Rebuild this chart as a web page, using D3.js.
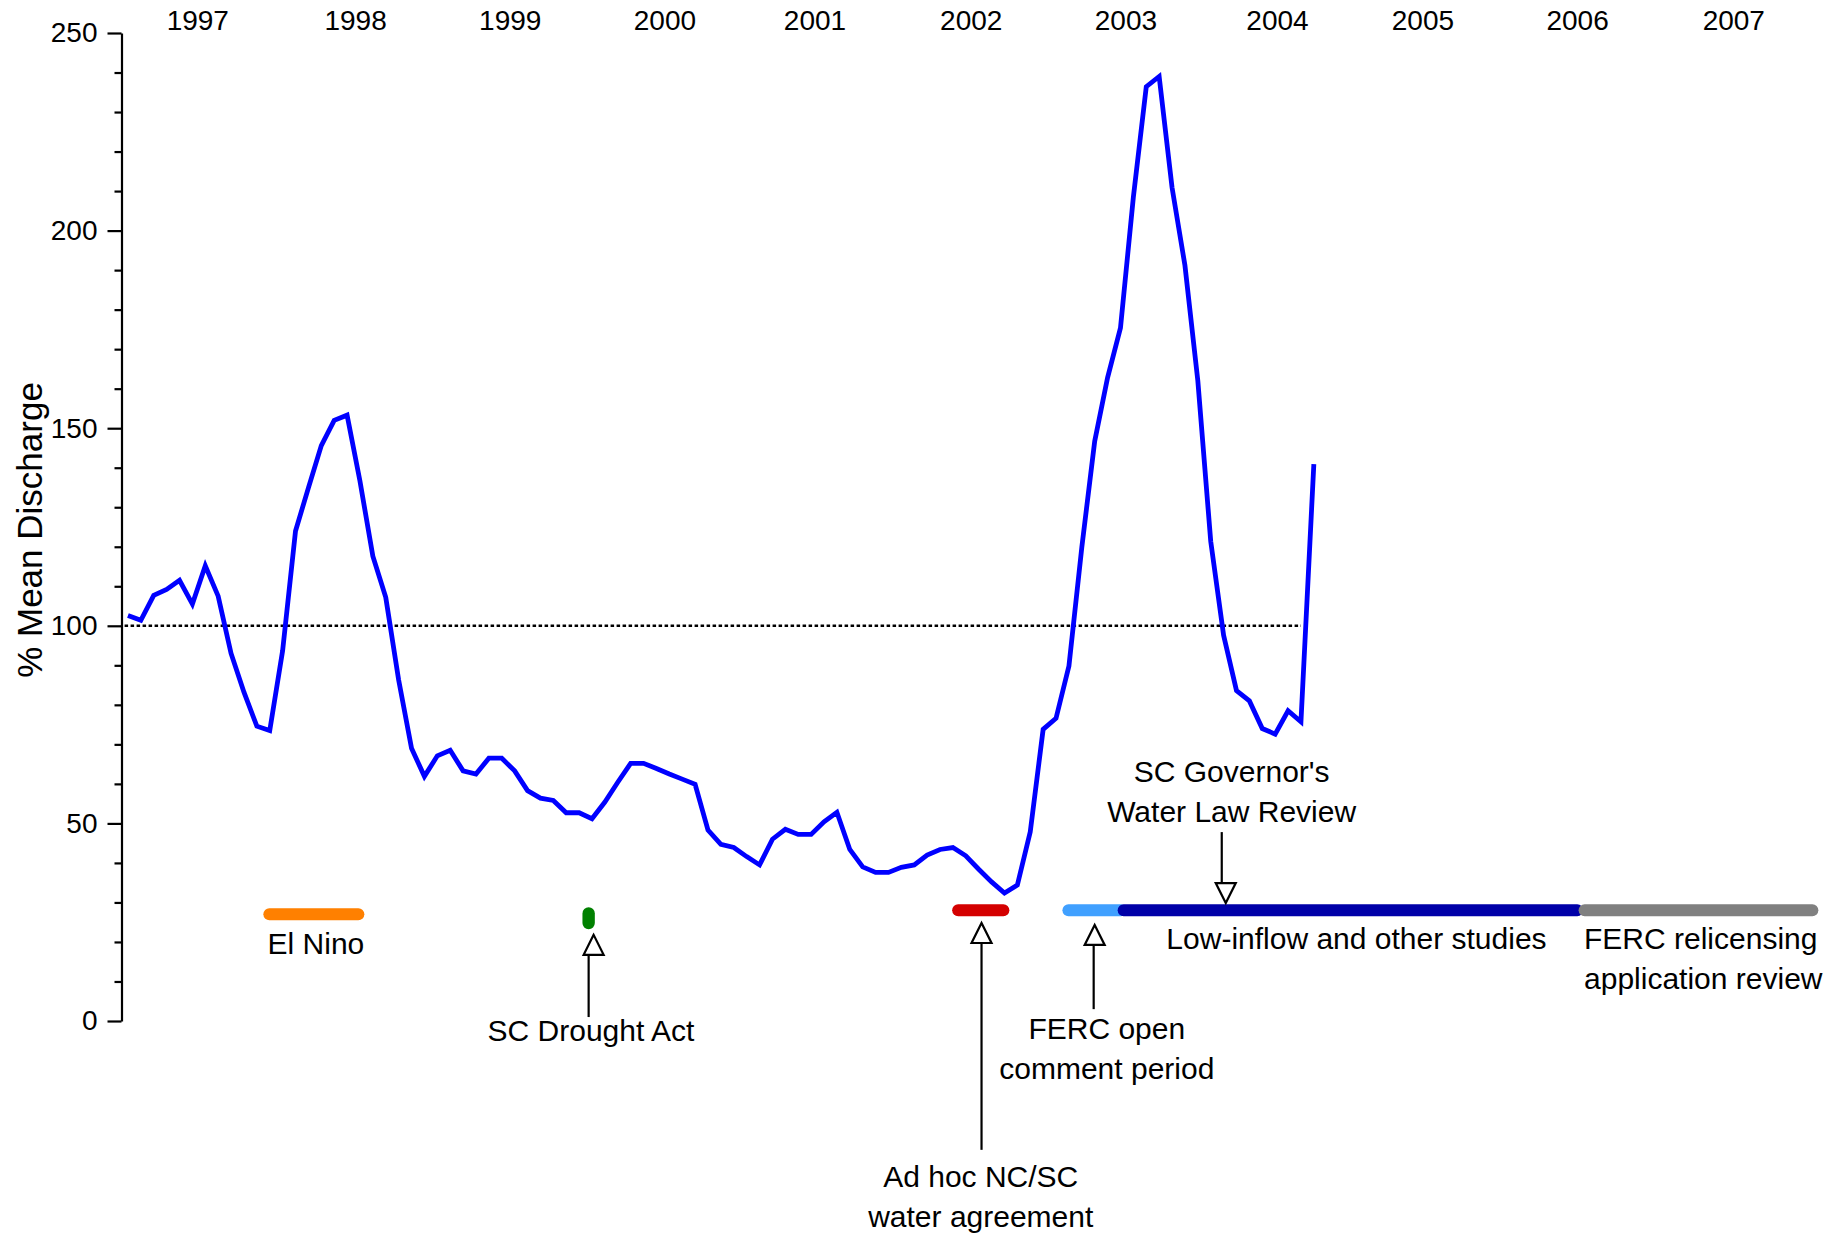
<!DOCTYPE html>
<html>
<head>
<meta charset="utf-8">
<script src="https://cdn.jsdelivr.net/npm/d3@7"></script>
<style>
  body { margin: 0; background: #fff; }
  svg { display: block; font-family: Arial, "Liberation Sans", sans-serif; }
</style>
</head>
<body>
<svg></svg>
<script>
// ---- data ----
// monthly % of mean discharge, Jan 1997 .. Sep 2004
const startYear = 1997;
const discharge = [
  102.6, 101.4, 107.7, 109.2, 111.5, 105.5, 115.2, 107.5, 93.0, 83.2, 74.6, 73.5,   // 1997
  93.7, 124.0, 134.9, 145.6, 152.0, 153.3, 136.6, 117.6, 107.2, 86.3, 69.0, 61.9,   // 1998
  67.1, 68.5, 63.3, 62.5, 66.5, 66.5, 63.3, 58.3, 56.4, 55.8, 52.7, 52.7,           // 1999
  51.2, 55.4, 60.4, 65.2, 65.2, 63.9, 62.5, 61.2, 59.9, 48.3, 44.7, 43.9,           // 2000
  41.6, 39.5, 46.0, 48.5, 47.2, 47.2, 50.4, 52.8, 43.4, 39.0, 37.6, 37.6,           // 2001
  38.9, 39.5, 42.0, 43.4, 43.9, 41.8, 38.4, 35.2, 32.4, 34.4, 47.9, 73.8,           // 2002
  76.6, 89.8, 119.9, 146.7, 162.8, 175.4, 208.5, 236.4, 239.0, 210.9, 191.2, 162.0, // 2003
  121.4, 97.6, 83.6, 81.0, 74.0, 72.6, 78.5, 75.7, 140.9                            // 2004
];

// year labels along the top and where they sit (decimal years)
const years = [1997, 1998, 1999, 2000, 2001, 2002, 2003, 2004, 2005, 2006, 2007];
const yearLabelPos = [1997.49, 1998.51, 1999.51, 2000.51, 2001.48, 2002.49, 2003.49, 2004.47, 2005.41, 2006.41, 2007.42];

const yTicks = [0, 50, 100, 150, 200, 250];
const yMinorTicks = [10, 20, 30, 40, 60, 70, 80, 90, 110, 120, 130, 140, 160, 170, 180, 190, 210, 220, 230, 240];

// 100% reference line (decimal years)
const refValue = 100;
const refFrom = 1997.02, refTo = 2004.625;

// event periods (decimal years) and the level they are drawn at
const barNames  = ["El Nino", "SC Drought Act", "Ad hoc NC/SC", "FERC open comment", "Low-inflow studies", "FERC relicensing"];
const barStart  = [1997.917, 1999.98, 2002.37, 2003.083, 2003.44, 2006.42];
const barEnd    = [1998.57, 2000.06, 2002.74, 2003.5, 2006.45, 2007.97];
const barLevel  = [27, 26, 28, 28, 28, 28];

// arrows: date, tip value, tail value
const arrowYear = [2000.02, 2002.56, 2003.285, 2004.113];
const arrowTip  = [21.8, 24.8, 24.3, 29.85];
const arrowTail = [1.0, -32.6, 3.0, 47.8];

// ---- styles ----
const barColors = ["#ff8000", "#008000", "#d40000", "#40a0ff", "#0000a8", "#808080"];
const barHeights = [12, 22, 12, 12, 12, 12];
const arrowHeadShift = [5, 0, 1, 4];

// text annotations: lines, anchor date, baseline value, text-anchor
const notes = [
  { lines: ["El Nino"], at: 1998.257, v: 17.0, anchor: "middle" },
  { lines: ["SC Drought Act"], at: 2000.035, v: -5.0, anchor: "middle" },
  { lines: ["Ad hoc NC/SC", "water agreement"], at: 2002.555, v: -42.1, anchor: "middle" },
  { lines: ["FERC open", "comment period"], at: 2003.37, v: -4.6, anchor: "middle" },
  { lines: ["SC Governor's", "Water Law Review"], at: 2004.177, v: 60.5, anchor: "middle" },
  { lines: ["Low-inflow and other studies"], at: 2004.984, v: 18.3, anchor: "middle" },
  { lines: ["FERC relicensing", "application review"], at: 2006.455, v: 18.3, anchor: "start" }
];

// ---- svg ----
let width = 1843, height = 1235;
let svg = d3.select('svg')
  .attr('width', width)
  .attr('height', height);

let x = d3.scaleLinear().domain([1997, 2008]).range([121.5, 1823]);
let y = d3.scaleLinear().domain([0, 250]).range([1021, 33]);

// y axis, major + minor ticks
svg.append('g')
  .attr('transform', `translate(${x(1997)},0)`)
  .call(d3.axisLeft(y).tickValues(yTicks).tickSize(14).tickSizeOuter(0).tickPadding(10))
  .call(g => g.selectAll('text').style('font-size', '28px').attr('fill', '#000'))
  .call(g => g.selectAll('line, path').attr('stroke', '#000').attr('stroke-width', 2.2));

svg.append('g')
  .attr('transform', `translate(${x(1997)},0)`)
  .call(d3.axisLeft(y).tickValues(yMinorTicks).tickSize(7).tickFormat(''))
  .call(g => g.select('.domain').remove())
  .call(g => g.selectAll('line').attr('stroke', '#000').attr('stroke-width', 2.2));

// year labels on top
svg.append('g')
  .attr('transform', 'translate(0,30)')
  .call(d3.axisTop(x).tickValues(yearLabelPos).tickFormat((d, i) => years[i]).tickSize(0).tickPadding(0))
  .call(g => g.select('.domain').remove())
  .call(g => g.selectAll('text').style('font-size', '28px').attr('fill', '#000'));

svg.append('text')
  .attr('transform', `translate(42,${(y(0) + y(250)) / 2 + 3}) rotate(-90)`)
  .attr('text-anchor', 'middle')
  .style('font-size', '35px')
  .text('% Mean Discharge');

// 100% dotted line
svg.append('line')
  .attr('x1', x(refFrom)).attr('x2', x(refTo))
  .attr('y1', y(refValue)).attr('y2', y(refValue))
  .attr('stroke', '#000')
  .attr('stroke-width', 2.5)
  .attr('stroke-dasharray', '3.5,2.5');

// discharge line
let line = d3.line()
  .x((d, i) => x(startYear + (i + 0.5) / 12))
  .y(d => y(d));

svg.append('path')
  .datum(discharge)
  .attr('d', line)
  .attr('fill', 'none')
  .attr('stroke', '#0000ff')
  .attr('stroke-width', 4.8);

// event bars
svg.append('g')
  .selectAll('rect')
  .data(barNames)
  .enter()
  .append('rect')
    .attr('x', (d, i) => x(barStart[i]))
    .attr('width', (d, i) => x(barEnd[i]) - x(barStart[i]))
    .attr('y', (d, i) => y(barLevel[i]) - barHeights[i] / 2)
    .attr('height', (d, i) => barHeights[i])
    .attr('rx', (d, i) => Math.min(x(barEnd[i]) - x(barStart[i]), barHeights[i]) / 2)
    .style('fill', (d, i) => barColors[i]);

// arrows with open triangle heads
let arrows = svg.append('g')
  .selectAll('g')
  .data(arrowYear)
  .enter()
  .append('g');

arrows.each(function (d, i) {
  let g = d3.select(this);
  let ax = x(d), tip = y(arrowTip[i]), tail = y(arrowTail[i]);
  let dir = tail > tip ? 1 : -1;   // 1 = pointing up
  let base = tip + dir * 20;
  let hx = ax + arrowHeadShift[i];
  g.append('line')
    .attr('x1', ax).attr('x2', ax)
    .attr('y1', tail).attr('y2', base)
    .attr('stroke', '#000').attr('stroke-width', 2.2);
  g.append('path')
    .attr('d', `M${hx},${tip} L${hx - 10},${base} L${hx + 10},${base} Z`)
    .attr('fill', '#fff')
    .attr('stroke', '#000')
    .attr('stroke-width', 2.2);
});

// annotation text
let notesG = svg.append('g')
  .selectAll('text')
  .data(notes)
  .enter()
  .append('text')
    .attr('text-anchor', d => d.anchor)
    .style('font-size', '30px')
    .attr('fill', '#000');

notesG.each(function (d) {
  let t = d3.select(this);
  d.lines.forEach((s, k) => {
    t.append('tspan')
      .attr('x', x(d.at))
      .attr('y', y(d.v) + k * 40)
      .text(s);
  });
});
</script>
</body>
</html>
